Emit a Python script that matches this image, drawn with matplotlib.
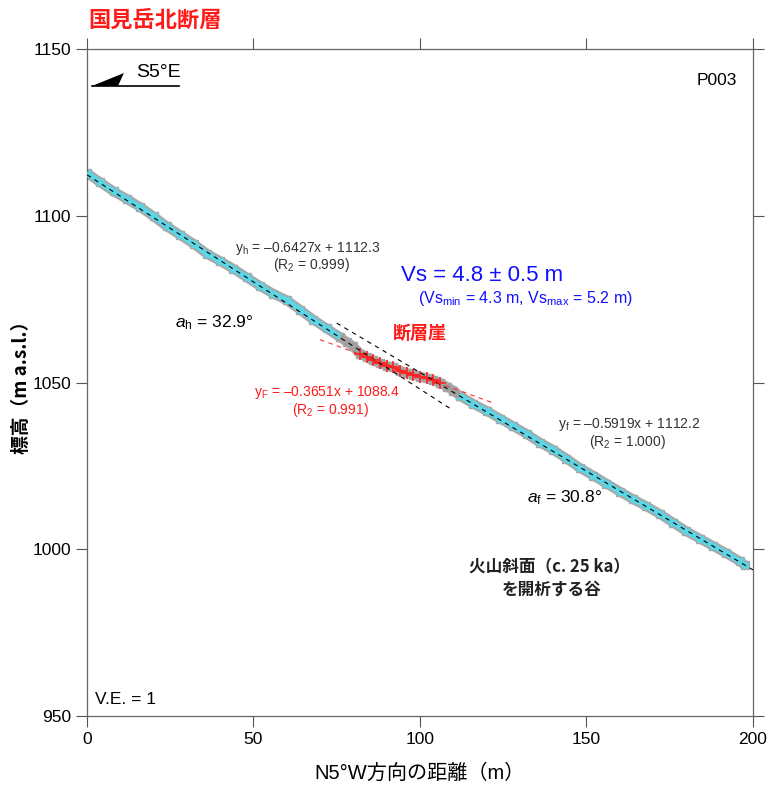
import numpy as np
import matplotlib
matplotlib.use('Agg')
import matplotlib.pyplot as plt

plt.rcParams['font.family'] = ['Liberation Sans', 'Noto Sans CJK JP', 'DejaVu Sans']
plt.rcParams['mathtext.fontset'] = 'custom'
plt.rcParams['mathtext.rm'] = 'Liberation Sans'
plt.rcParams['mathtext.it'] = 'Liberation Sans:italic'

# profile data (distance m, elevation m)
x_upper = [0, 4, 8, 12, 16, 20, 24, 28, 32, 36, 40, 44, 48, 52, 56, 60, 64, 68, 72, 76]
y_upper = [1112.8, 1110.0, 1107.3, 1105.0, 1102.6, 1099.8, 1096.8, 1094.2, 1091.6, 1088.6,
           1086.4, 1084.1, 1081.5, 1078.9, 1076.6, 1074.7, 1071.8, 1068.8, 1066.2, 1063.6]
x_gap1 = [76, 78, 80, 82]
y_gap1 = [1063.6, 1062.2, 1060.8, 1058.6]
x_scarp = [82, 84, 86, 88, 90, 92, 94, 96, 98, 100, 102, 104, 106]
y_scarp = [1058.6, 1057.6, 1056.6, 1055.7, 1055.0, 1054.5, 1053.6, 1052.9, 1052.4, 1051.8,
           1051.3, 1050.7, 1049.9]
x_gap2 = [106, 108, 110, 112]
y_gap2 = [1049.9, 1048.8, 1047.6, 1046.0]
x_lower = [112, 116, 120, 124, 128, 132, 136, 140, 144, 148, 152, 156, 160, 164, 168, 172,
           176, 180, 184, 188, 192, 196, 197.5]
y_lower = [1046.0, 1043.6, 1041.5, 1039.2, 1036.9, 1034.6, 1032.0, 1029.8, 1027.2, 1024.4,
           1022.1, 1019.7, 1017.3, 1015.0, 1012.9, 1010.6, 1008.0, 1005.4, 1003.2, 1001.0,
           998.8, 996.4, 995.3]

# regression lines (slope, intercept, x range)
fit_h = (-0.6427, 1112.3, 0, 110)
fit_f = (-0.5919, 1112.2, 75, 200)
fit_F = (-0.3651, 1088.4, 70, 122)

fig = plt.figure(figsize=(7.71, 7.89), dpi=100)
ax = fig.add_axes([0.1128, 0.0925, 0.8638, 0.8454])

# profile: gray halo + cyan core
for xs, ys, col in [(x_upper, y_upper, '#5ad6e6'), (x_gap1, y_gap1, '#a0a0a0'),
                    (x_scarp, y_scarp, '#a0a0a0'), (x_gap2, y_gap2, '#a0a0a0'),
                    (x_lower, y_lower, '#5ad6e6')]:
    ax.plot(xs, ys, color='#a8a8a8', lw=7, solid_capstyle='butt', zorder=2)
    ax.plot(xs, ys, ls='none', marker='s', ms=6, mew=1.0, mfc=col, mec='#a8a8a8', zorder=2)
    ax.plot(xs, ys, color=col, lw=4, solid_capstyle='butt', zorder=3)

ax.plot(x_scarp, y_scarp, color='#ff2020', lw=1.5, zorder=4)
ax.plot(x_scarp, y_scarp, ls='none', marker='+', ms=8, mew=1.2, color='#ff2020', zorder=4)

for (a, b, x0, x1), c in [(fit_h, 'black'), (fit_f, 'black'), (fit_F, '#ff3030')]:
    xx = np.array([x0, x1])
    ax.plot(xx, a * xx + b, color=c, lw=0.8, dashes=(4, 4), zorder=5)

ax.set_xlim(0, 200)
ax.set_ylim(950, 1150)
ax.set_xticks([0, 50, 100, 150, 200])
ax.set_yticks([950, 1000, 1050, 1100, 1150])
ax.tick_params(direction='out', length=8, width=0.8, color='#555555',
               top=True, right=True, labelsize=12.5)
for s in ax.spines.values():
    s.set_color('#666666')
    s.set_linewidth(0.9)

ax.set_xlabel('N5°W方向の距離（m）', fontsize=14.5, labelpad=12)
ax.set_ylabel('標高（m a.s.l.）', fontsize=13.5, fontweight='bold', labelpad=1,
              family=['Noto Sans CJK JP'])

fig.text(0.114, 0.974, '国見岳北断層', color='#ff1a1a', fontsize=16, fontweight='bold',
         family=['Noto Sans CJK JP'], va='center')

# direction arrow
ax.fill([1.5, 11.1, 9.3], [1138.9, 1142.8, 1138.9], color='black', lw=0, zorder=6)
ax.plot([1.5, 27.6], [1138.9, 1138.9], color='black', lw=1.2)
ax.text(21.6, 1143.0, 'S5°E', fontsize=14, ha='center', va='center')
ax.text(195.2, 1140.7, 'P003', fontsize=12.5, ha='right', va='center')
ax.text(2.4, 955, 'V.E. = 1', fontsize=12.5, ha='left', va='center')

gray = '#333333'
ax.text(66.4, 1090.3, 'y$_\\mathrm{h}$ = –0.6427x + 1112.3', fontsize=10, color=gray,
        ha='center', va='center')
ax.text(67.5, 1085.1, '(R$_\\mathrm{2}$ = 0.999)', fontsize=10, color=gray,
        ha='center', va='center')
ax.text(26.4, 1068, '$\\mathit{a}_\\mathrm{h}$ = 32.9°', fontsize=12.5,
        ha='left', va='center')

ax.text(118.6, 1082, 'Vs = 4.8 ± 0.5 m', fontsize=16, color='#1010ff',
        ha='center', va='center')
ax.text(131.8, 1075.3, '(Vs$_\\mathrm{min}$ = 4.3 m, Vs$_\\mathrm{max}$ = 5.2 m)', fontsize=11.5,
        color='#1010ff', ha='center', va='center')
ax.text(100, 1064.8, '断層崖', fontsize=13, color='#ff1a1a', fontweight='bold',
        family=['Noto Sans CJK JP'], ha='center', va='center')

ax.text(72, 1046.9, 'y$_\\mathrm{F}$ = –0.3651x + 1088.4', fontsize=10, color='#ff1a1a',
        ha='center', va='center')
ax.text(73, 1041.8, '(R$_\\mathrm{2}$ = 0.991)', fontsize=10, color='#ff1a1a',
        ha='center', va='center')

ax.text(162.8, 1037.3, 'y$_\\mathrm{f}$ = –0.5919x + 1112.2', fontsize=10, color=gray,
        ha='center', va='center')
ax.text(162.2, 1032.2, '(R$_\\mathrm{2}$ = 1.000)', fontsize=10, color=gray,
        ha='center', va='center')
ax.text(132, 1015.4, '$\\mathit{a}_\\mathrm{f}$ = 30.8°', fontsize=12.5,
        ha='left', va='center')

ax.text(139, 994.7, '火山斜面（c. 25 ka）', fontsize=12, color='#222222', ha='center',
        va='center', family=['Noto Sans CJK JP'], fontweight='bold')
ax.text(139.6, 987.8, 'を開析する谷', fontsize=12, color='#222222', ha='center',
        va='center', family=['Noto Sans CJK JP'], fontweight='bold')

fig.savefig('out.png', dpi=100)
